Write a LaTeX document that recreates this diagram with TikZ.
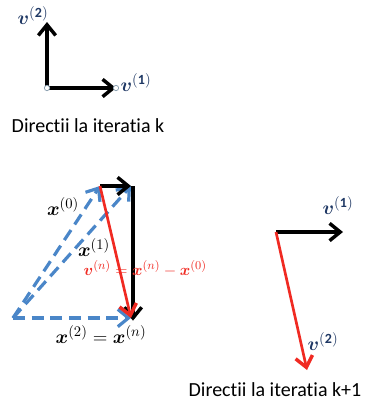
\documentclass[tikz,border=0pt]{standalone}
\usepackage{amsmath}
\usepackage{amssymb}
\usepackage{xcolor}
\usepackage{fontspec}
\setmainfont[Ligatures=NoCommon]{Carlito}
\usetikzlibrary{positioning, arrows.meta}
\definecolor{VecBlue}{HTML}{4A86C8}
\definecolor{VecRed}{HTML}{F02A22}
\definecolor{LblNavy}{HTML}{1F3864}
\definecolor{DotGrey}{HTML}{8FA3B3}

\begin{document}
\begin{tikzpicture}[
  x=0.75pt, y=-0.75pt,
  every node/.style={font=\fontsize{15}{18}\selectfont},
  vec/.style={-{Straight Barb[length=8pt, width=13pt, line width=2.6pt]}, line width=2.8pt, #1},
  vec/.default={black},
  dvec/.style={-{Straight Barb[length=8pt, width=13pt, line width=2.4pt]}, line width=2.4pt, VecBlue, dash pattern=on 9pt off 5pt},
  mlbl/.style={text=#1, inner sep=1pt},
  mlbl/.default={black},
  dot/.style={circle, draw=DotGrey, fill=white, inner sep=0pt, minimum size=4pt, line width=0.6pt},
  caption/.style={font=\fontsize{15}{18}\selectfont},
]
  \useasboundingbox (0,0) rectangle (374,408);

  % Directions at iteration k
  \coordinate (o) at (47,88);
  \coordinate (e2) at (47,22);
  \coordinate (e1) at (116,88);
  \draw[vec] (o) -- (e2);
  \draw[vec] (o) -- (e1);
  \node[dot] (odot) at (o) {};
  \node[dot] (e1dot) at (e1) {};
  \node[mlbl=LblNavy] (e1lbl) at (136,83) {$\boldsymbol{v}^{(\mathbf{1})}$};
  \node[mlbl=LblNavy] (e2lbl) at (33,16) {$\boldsymbol{v}^{(\mathbf{2})}$};
  \node[caption] (capk) at (88,126) {Directii la iteratia k};

  % Iterates
  \coordinate (start) at (13,318);
  \coordinate (x0) at (100,186);
  \coordinate (x1) at (131,186);
  \coordinate (x2) at (131,318);
  \draw[dvec] (start) -- (x0);
  \draw[dvec] (start) -- (x1);
  \draw[dvec] (start) -- (x2);
  \draw[vec] (x0) -- (x1);
  \draw[vec] ([xshift=1.5pt]x1) -- ([xshift=1.5pt, yshift=-2pt]x2);
  \draw[vec=VecRed, line width=2pt] (x0) -- (x2);

  % Iterate labels
  \node[mlbl] (x0lbl) at (63,207) {$\boldsymbol{x}^{(0)}$};
  \node[mlbl] (x1lbl) at (94,248) {$\boldsymbol{x}^{(1)}$};
  \node[mlbl] (x2lbl) at (101,335) {$\boldsymbol{x}^{(2)} = \boldsymbol{x}^{(n)}$};
  \node[mlbl=VecRed, anchor=west, font=\fontsize{13}{16}\selectfont] (vnlbl) at (82,269) {$\boldsymbol{v}^{(n)} = \boldsymbol{x}^{(n)} - \boldsymbol{x}^{(0)}$};

  % Directions at iteration k+1
  \coordinate (p) at (276,232);
  \coordinate (f1) at (343,232);
  \coordinate (f2) at (307,370);
  \draw[vec] (p) -- (f1);
  \draw[vec=VecRed, line width=2pt] (p) -- (f2);
  \node[mlbl=LblNavy] (f1lbl) at (338,206) {$\boldsymbol{v}^{(\mathbf{1})}$};
  \node[mlbl=LblNavy] (f2lbl) at (323,342) {$\boldsymbol{v}^{(\mathbf{2})}$};
  \node[caption] (capk1) at (275,390) {Directii la iteratia k+1};
\end{tikzpicture}
\end{document}
